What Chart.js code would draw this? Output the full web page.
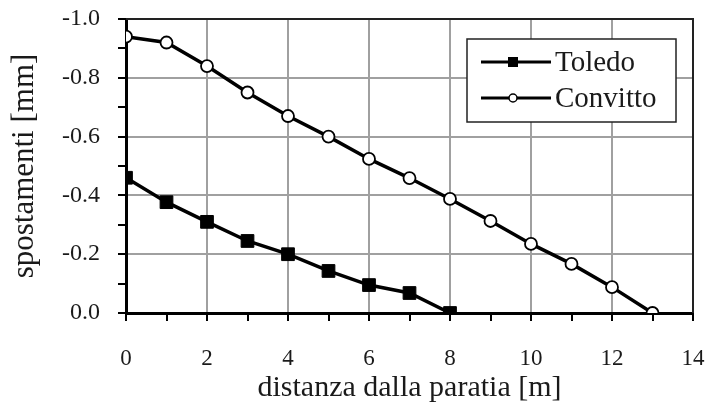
<!DOCTYPE html>
<html>
<head>
<meta charset="utf-8">
<script src="https://cdn.jsdelivr.net/npm/chart.js@4"></script>
<style>
  html, body { margin: 0; padding: 0; background: #fff; }
  #wrap { width: 707px; height: 406px; }
</style>
</head>
<body>
<div id="wrap"><canvas id="myChart" width="707" height="406"></canvas></div>
<script>
const toledoX = [0, 1, 2, 3, 4, 5, 6, 7, 8];
const toledoY = [-0.46, -0.377, -0.31, -0.245, -0.2, -0.143, -0.095, -0.068, 0];
const convittoX = [0, 1, 2, 3, 4, 5, 6, 7, 8, 9, 10, 11, 12, 13];
const convittoY = [-0.94, -0.92, -0.84, -0.75, -0.67, -0.6, -0.524, -0.459, -0.388, -0.313, -0.235, -0.167, -0.088, 0];
const xTicks = [0, 2, 4, 6, 8, 10, 12, 14];
const yTicks = [-1.0, -0.8, -0.6, -0.4, -0.2, 0.0];

const serif = "'Liberation Serif', 'DejaVu Serif', serif";
const textColor = "#1a1a1a";

function toPoints(xs, ys) {
  return xs.map((x, i) => ({ x: x, y: ys[i] }));
}

// frame round the plot area + legend box drawn inside it
const framePlugin = {
  id: "frame",
  afterDraw(chart) {
    const { ctx, chartArea: a } = chart;
    ctx.save();
    ctx.strokeStyle = "#222";
    ctx.lineWidth = 2;
    ctx.beginPath();
    ctx.moveTo(a.left, a.top);
    ctx.lineTo(a.right, a.top);
    ctx.lineTo(a.right, a.bottom);
    ctx.stroke();

    // legend
    const bw = 209, bh = 83;
    const bx = a.right - 17 - bw, by = a.top + 20;
    ctx.fillStyle = "#fff";
    ctx.fillRect(bx, by, bw, bh);
    ctx.lineWidth = 1.5;
    ctx.strokeStyle = "#222";
    ctx.strokeRect(bx, by, bw, bh);
    chart.data.datasets.forEach((ds, i) => {
      const cy = by + 23 + i * 36;
      const x0 = bx + 14, x1 = bx + 84, cx = (x0 + x1) / 2 - 3;
      ctx.strokeStyle = "#000";
      ctx.lineWidth = 3;
      ctx.beginPath();
      ctx.moveTo(x0, cy);
      ctx.lineTo(x1, cy);
      ctx.stroke();
      if (ds.pointStyle === "rect") {
        ctx.fillStyle = "#000";
        ctx.fillRect(cx - 5, cy - 5, 10, 10);
      } else {
        ctx.fillStyle = "#fff";
        ctx.lineWidth = 1.5;
        ctx.beginPath();
        ctx.arc(cx, cy, 4, 0, Math.PI * 2);
        ctx.fill();
        ctx.stroke();
      }
      ctx.fillStyle = textColor;
      ctx.font = "29px " + serif;
      ctx.textBaseline = "middle";
      ctx.textAlign = "left";
      ctx.fillText(ds.label, x1 + 4, cy + 1);
    });
    ctx.restore();
  },
};

const ctx = document.getElementById("myChart").getContext("2d");

new Chart(ctx, {
  type: "line",
  data: {
    datasets: [
      {
        label: "Toledo",
        data: toPoints(toledoX, toledoY),
        borderColor: "#000",
        backgroundColor: "#000",
        borderWidth: 3.5,
        pointStyle: "rect",
        pointRadius: 9,
        pointBorderWidth: 1,
        pointBackgroundColor: "#000",
        pointBorderColor: "#000",
      },
      {
        label: "Convitto",
        data: toPoints(convittoX, convittoY),
        borderColor: "#000",
        backgroundColor: "#fff",
        borderWidth: 3.5,
        pointStyle: "circle",
        pointRadius: 6,
        pointBorderWidth: 1.8,
        pointBackgroundColor: "#fff",
        pointBorderColor: "#000",
      },
    ],
  },
  options: {
    responsive: false,
    animation: false,
    events: [],
    layout: { padding: { top: 19, right: 14, left: 0, bottom: 0 } },
    plugins: {
      legend: { display: false },
      tooltip: { enabled: false },
    },
    scales: {
      x: {
        type: "linear",
        min: 0,
        max: 14,
        afterBuildTicks: (scale) => {
          scale.ticks = [];
          for (let v = 0; v <= 14; v++) scale.ticks.push({ value: v });
        },
        afterFit: (scale) => {
          scale.height = 93;
          scale.paddingLeft = 0;
          scale.paddingRight = 0;
        },
        border: { display: true, color: "#000", width: 3 },
        grid: {
          color: (c) => (c.tick && c.tick.value % 2 === 0 ? "#a0a0a0" : "rgba(0,0,0,0)"),
          lineWidth: 2,
          tickColor: "#000",
          tickLength: 8,
          tickWidth: 2,
        },
        ticks: {
          color: textColor,
          padding: 24,
          maxRotation: 0,
          autoSkip: false,
          font: { family: serif, size: 23 },
          callback: (v) => (xTicks.includes(v) ? String(v) : ""),
        },
        title: {
          display: true,
          text: "distanza dalla paratia [m]",
          color: textColor,
          padding: { top: 0, bottom: 0 },
          font: { family: serif, size: 30 },
        },
      },
      y: {
        type: "linear",
        min: -1.0,
        max: 0,
        reverse: true,
        afterBuildTicks: (scale) => {
          scale.ticks = [];
          for (let k = 0; k <= 10; k++) scale.ticks.push({ value: -k / 10 });
        },
        afterFit: (scale) => {
          scale.width = 126;
          scale.paddingTop = 0;
          scale.paddingBottom = 0;
        },
        border: { display: true, color: "#000", width: 3 },
        grid: {
          color: (c) => {
            const v = Math.round(Math.abs(c.tick ? c.tick.value : 0) * 10);
            return v % 2 === 0 ? "#a0a0a0" : "rgba(0,0,0,0)";
          },
          lineWidth: 2,
          tickColor: "#000",
          tickLength: 8,
          tickWidth: 2,
        },
        ticks: {
          color: textColor,
          padding: 18,
          autoSkip: false,
          font: { family: serif, size: 24 },
          callback: (v) => {
            const r = Math.round(v * 10) / 10;
            return yTicks.some((t) => Math.abs(t - r) < 1e-9) ? r.toFixed(1) : "";
          },
        },
        title: {
          display: true,
          text: "spostamenti [mm]",
          color: textColor,
          padding: { top: 6, bottom: 0 },
          font: { family: serif, size: 31 },
        },
      },
    },
  },
  plugins: [framePlugin],
});
</script>
</body>
</html>
